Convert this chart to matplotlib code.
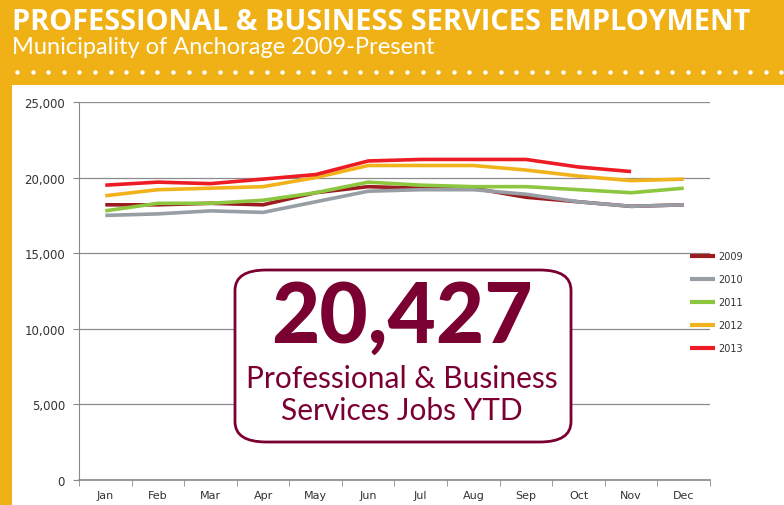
import numpy as np
import matplotlib.pyplot as plt
from matplotlib.patches import FancyBboxPatch, Rectangle
from matplotlib.ticker import FuncFormatter

# Данные по изображению
months = ["Jan", "Feb", "Mar", "Apr", "May", "Jun", "Jul", "Aug", "Sep", "Oct", "Nov", "Dec"]
y2009 = [18200, 18200, 18300, 18200, 19000, 19400, 19300, 19300, 18700, 18400, 18100, 18200]
y2010 = [17500, 17600, 17800, 17700, 18400, 19100, 19200, 19200, 18900, 18400, 18100, 18200]
y2011 = [17800, 18300, 18300, 18500, 19000, 19700, 19500, 19400, 19400, 19200, 19000, 19300]
y2012 = [18800, 19200, 19300, 19400, 20000, 20800, 20800, 20800, 20500, 20100, 19800, 19900]
y2013 = [19500, 19700, 19600, 19900, 20200, 21100, 21200, 21200, 21200, 20700, 20400]
ytd_value = "20,427"

series = [("2009", y2009, "#9b1b1f"),
          ("2010", y2010, "#979ea5"),
          ("2011", y2011, "#8dc63f"),
          ("2012", y2012, "#f2b21b"),
          ("2013", y2013, "#ed1c24")]

yellow = "#efb115"
maroon = "#7a0032"

fig = plt.figure(figsize=(7.84, 5.06), dpi=100)
fig.patch.set_facecolor(yellow)

# Белая панель (в фоне)
bg = fig.add_axes([12 / 784, 0, 1, 1 - 86 / 506], zorder=0)
bg.set_axis_off()
bg.add_patch(Rectangle((0, 0), 1, 1, transform=bg.transAxes, facecolor="white", edgecolor="none"))

# Пунктир из точек
dots_x = np.arange(17, 784, 15.6) / 784
fig.lines.append(plt.Line2D(dots_x, np.full_like(dots_x, 1 - 73 / 506), transform=fig.transFigure,
                            linestyle="none", marker="o", markersize=2.2, color="white"))

fig.text(12 / 784, 1 - 22 / 506, "PROFESSIONAL & BUSINESS SERVICES EMPLOYMENT",
         color="white", fontsize=20.8, fontweight="bold", family="Open Sans",
         va="center", ha="left")
fig.text(12 / 784, 1 - 48 / 506, "Municipality of Anchorage 2009-Present",
         color="white", fontsize=17, family="Lato",
         va="center", ha="left")

ax = fig.add_axes([79 / 784, 1 - 481 / 506, (710 - 79) / 784, (481 - 103) / 506], zorder=1)
ax.patch.set_alpha(0)
x = np.arange(len(months))
for name, vals, col in series:
    ax.plot(x[:len(vals)], vals, color=col, linewidth=2.6, label=name, solid_capstyle="butt")

ax.set_xlim(-0.5, 11.5)
ax.set_ylim(0, 25000)
ax.set_yticks(np.arange(0, 25001, 5000))
ax.yaxis.set_major_formatter(FuncFormatter(lambda v, p: f"{int(v):,}"))
ax.set_xticks(x)
ax.set_xticklabels(months)
ax.set_xticks(np.arange(-0.5, 12, 1), minor=True)
ax.tick_params(axis="x", which="major", length=0, labelsize=8, pad=7, labelcolor="#333333")
ax.tick_params(axis="x", which="minor", length=4, color="#888888", direction="out")
ax.tick_params(axis="y", length=4, color="#888888", labelsize=8.5, labelcolor="#333333", pad=6)
ax.grid(axis="y", color="#8c8c8c", linewidth=0.9)
ax.set_axisbelow(True)
for s in ["top", "right"]:
    ax.spines[s].set_visible(False)
ax.spines["left"].set_color("#888888")
ax.spines["bottom"].set_color("#888888")
ax.spines["bottom"].set_linewidth(1.2)

leg = ax.legend(loc="upper left", bbox_to_anchor=(690 / 784, 1 - 252 / 506),
                bbox_transform=fig.transFigure, frameon=False,
                fontsize=7, handlelength=2.6, labelspacing=1.35, handletextpad=0.3,
                borderaxespad=0, borderpad=0)
for t in leg.get_texts():
    t.set_color("#333333")
for h in leg.get_lines():
    h.set_linewidth(3)

# Рамка с итогом
box = FancyBboxPatch((235 / 784, 1 - 443 / 506), (571 - 235) / 784, (443 - 271) / 506,
                     boxstyle="round,pad=0,rounding_size=0.04", transform=fig.transFigure,
                     facecolor="white", edgecolor=maroon, linewidth=2, zorder=5, clip_on=False)
ax.add_patch(box)
ax.text(402 / 784, 1 - 318 / 506, ytd_value, color=maroon, fontsize=60, fontweight="black",
        family="Lato", ha="center", va="center", zorder=6, transform=fig.transFigure)
ax.text(402 / 784, 1 - 379 / 506, "Professional & Business", color=maroon, fontsize=21.5,
        family="Lato", ha="center", va="center", zorder=6, transform=fig.transFigure)
ax.text(402 / 784, 1 - 411 / 506, "Services Jobs YTD", color=maroon, fontsize=21.5,
        family="Lato", ha="center", va="center", zorder=6, transform=fig.transFigure)

fig.savefig("out.png", dpi=100, facecolor=fig.get_facecolor())
